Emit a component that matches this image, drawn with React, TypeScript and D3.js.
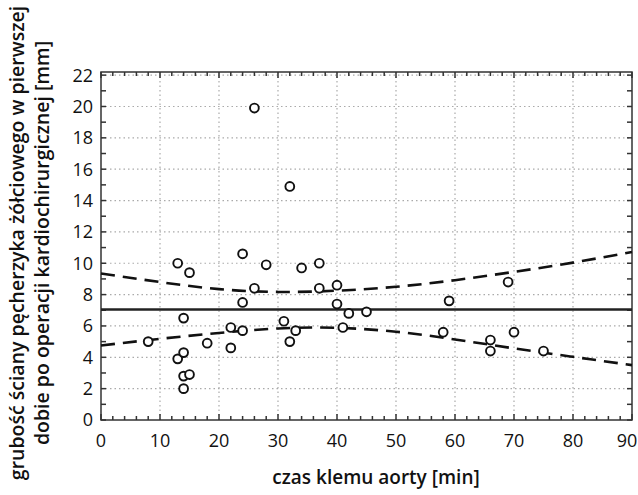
import React, { useEffect, useRef } from 'react';
import * as d3 from 'd3';

// observations: aortic clamp time [min] vs gallbladder wall thickness [mm]
const clampTime = [
  26, 32, 13, 15, 24, 28, 34, 37, 26, 24, 37, 40, 40,
  14, 8, 13, 14, 14, 15, 14, 18, 22, 22, 24, 31, 33, 32, 41, 42,
  45, 59, 58, 66, 66, 70, 75, 69
];
const wallThickness = [
  19.9, 14.9, 10.0, 9.4, 10.6, 9.9, 9.7, 10.0, 8.4, 7.5, 8.4, 8.6, 7.4,
  6.5, 5.0, 3.9, 4.3, 2.8, 2.9, 2.0, 4.9, 5.9, 4.6, 5.7, 6.3, 5.7, 5.0, 5.9, 6.8,
  6.9, 7.6, 5.6, 5.1, 4.4, 5.6, 4.4, 8.8
];

// fitted line and confidence band
const fitLevel = 7.05;
const bandX = [0, 10, 20, 30, 40, 50, 60, 70, 80, 90];
const bandUpper = [9.35, 8.8, 8.35, 8.17, 8.25, 8.5, 8.92, 9.45, 10.04, 10.72];
const bandLower = [4.75, 5.18, 5.55, 5.84, 5.88, 5.63, 5.14, 4.57, 4.03, 3.5];

const xTicks = [0, 10, 20, 30, 40, 50, 60, 70, 80, 90];
const yTicks = [0, 2, 4, 6, 8, 10, 12, 14, 16, 18, 20, 22];

const App = () => {
  const svgRef = useRef<SVGSVGElement>(null);

  useEffect(() => {
    const width = 638;
    const height = 495;
    const margin = { top: 72, right: 6, bottom: 75, left: 101 };
    const frame = '#333';
    const font = '"Open Sans", "Noto Sans", sans-serif';

    const x = d3.scaleLinear()
      .domain([0, 90])
      .range([margin.left, width - margin.right]);
    const y = d3.scaleLinear()
      .domain([0, 22.2])
      .range([height - margin.bottom, margin.top]);

    const svg = d3.select(svgRef.current);
    svg.selectAll('*').remove();
    svg.attr('width', width).attr('height', height)
      .style('display', 'block')
      .style('font-family', font);

    const [x0, x1] = x.range();
    const [y0, y1] = y.range();

    // dotted grid
    const grid = svg.append('g')
      .attr('stroke', '#aaa')
      .attr('stroke-width', 1.2)
      .attr('stroke-dasharray', '1.5,3');
    grid.selectAll('line.v')
      .data(xTicks.slice(1, -1))
      .join('line')
      .attr('x1', d => x(d)).attr('x2', d => x(d))
      .attr('y1', y0).attr('y2', y1);
    grid.selectAll('line.h')
      .data(yTicks.slice(1))
      .join('line')
      .attr('class', 'h')
      .attr('x1', x0).attr('x2', x1)
      .attr('y1', d => y(d)).attr('y2', d => y(d));

    // inward ticks on all four sides
    const ticks = svg.append('g').attr('stroke', frame).attr('stroke-width', 1.5);
    const xMinor = d3.range(0, 91, 2);
    const yMinor = d3.range(0, 23, 1);
    xMinor.forEach(v => {
      const len = v % 10 === 0 ? 6 : 4;
      ticks.append('line').attr('x1', x(v)).attr('x2', x(v)).attr('y1', y0).attr('y2', y0 - len);
      ticks.append('line').attr('x1', x(v)).attr('x2', x(v)).attr('y1', y1).attr('y2', y1 + len);
    });
    yMinor.forEach(v => {
      const len = 5;
      ticks.append('line').attr('x1', x0).attr('x2', x0 + len).attr('y1', y(v)).attr('y2', y(v));
      ticks.append('line').attr('x1', x1).attr('x2', x1 - len).attr('y1', y(v)).attr('y2', y(v));
    });

    svg.append('rect')
      .attr('x', x0).attr('y', y1)
      .attr('width', x1 - x0).attr('height', y0 - y1)
      .attr('fill', 'none')
      .attr('stroke', frame)
      .attr('stroke-width', 1.5);

    // regression line and confidence band
    svg.append('line')
      .attr('x1', x0).attr('x2', x1)
      .attr('y1', y(fitLevel)).attr('y2', y(fitLevel))
      .attr('stroke', '#222')
      .attr('stroke-width', 2.4);

    const band = d3.line<number>()
      .x((_, i) => x(bandX[i]))
      .y(d => y(d))
      .curve(d3.curveNatural);
    [bandUpper, bandLower].forEach(vals => {
      svg.append('path')
        .attr('d', band(vals))
        .attr('fill', 'none')
        .attr('stroke', '#111')
        .attr('stroke-width', 2.6)
        .attr('stroke-dasharray', '14,8');
    });

    // points
    svg.append('g')
      .selectAll('circle')
      .data(clampTime.map((t, i) => [t, wallThickness[i]]))
      .join('circle')
      .attr('cx', d => x(d[0]))
      .attr('cy', d => y(d[1]))
      .attr('r', 4.4)
      .attr('fill', 'white')
      .attr('stroke', '#111')
      .attr('stroke-width', 1.9);

    // tick labels
    svg.append('g')
      .selectAll('text')
      .data(xTicks)
      .join('text')
      .attr('x', d => Math.min(x(d), width - 11))
      .attr('y', y0 + 27)
      .attr('text-anchor', 'middle')
      .attr('font-size', 18)
      .attr('fill', '#111')
      .text(d => d);
    svg.append('g')
      .selectAll('text')
      .data(yTicks)
      .join('text')
      .attr('x', x0 - 8)
      .attr('y', d => y(d))
      .attr('dy', '0.36em')
      .attr('text-anchor', 'end')
      .attr('font-size', 18)
      .attr('fill', '#111')
      .text(d => d);

    // axis titles
    svg.append('text')
      .attr('x', 376)
      .attr('y', 484)
      .attr('text-anchor', 'middle')
      .attr('font-size', 19)
      .attr('font-weight', 600)
      .attr('fill', '#111')
      .text('czas klemu aorty [min]');

    const cy = 243;
    const yTitle = svg.append('text')
      .attr('transform', `translate(24,${cy}) rotate(-90)`)
      .attr('text-anchor', 'middle')
      .attr('font-size', 19.5)
      .attr('font-weight', 600)
      .attr('fill', '#111');
    yTitle.append('tspan').attr('x', 0).attr('y', 0)
      .text('grubość ściany pęcherzyka żółciowego w pierwszej');
    yTitle.append('tspan').attr('x', 0).attr('y', 25)
      .text('dobie po operacji kardiochirurgicznej [mm]');
  }, []);

  return (
    <div style={{ position: 'absolute', left: 0, top: 0 }}>
      <svg ref={svgRef}></svg>
    </div>
  );
};

export default App;
